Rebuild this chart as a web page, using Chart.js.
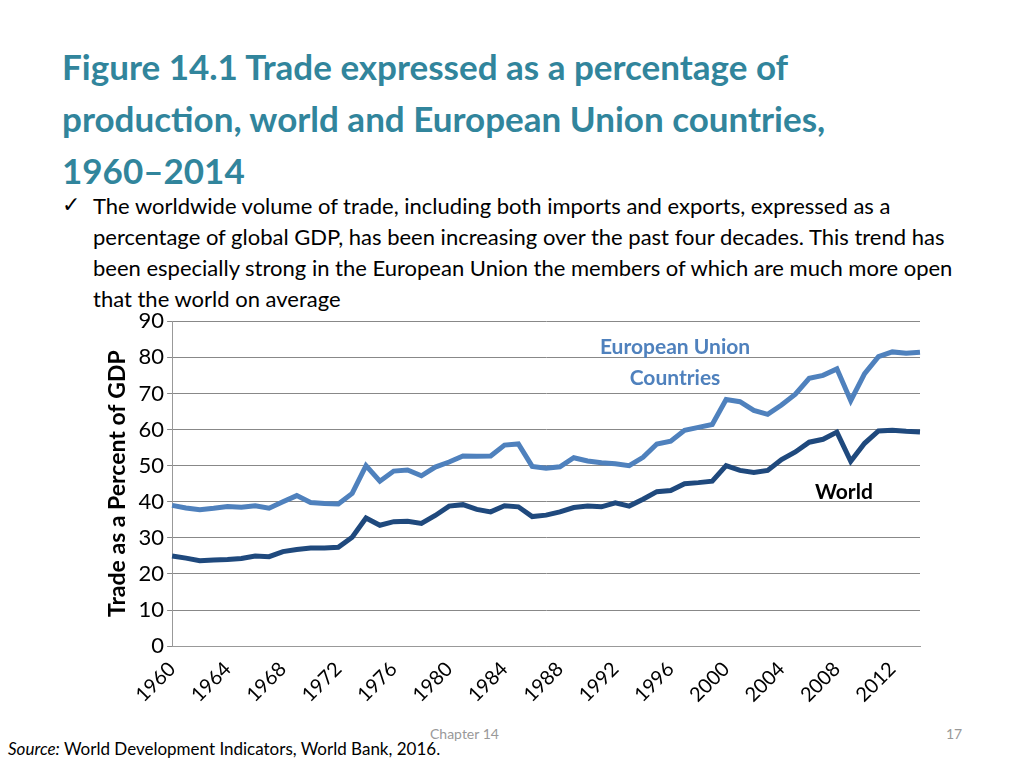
<!DOCTYPE html>
<html><head><meta charset="utf-8">
<script src="https://cdn.jsdelivr.net/npm/chart.js"></script>
<style>
body{margin:0;width:1024px;height:768px;background:#fff;font-family:Lato,"Open Sans",sans-serif;position:relative;overflow:hidden}
#t{position:absolute;left:62px;top:40px;width:830px;color:#31859c;font-weight:bold;font-size:35px;line-height:52px}
#b{position:absolute;left:93px;top:190px;width:875px;font-size:22px;line-height:31px;color:#000}
#ck{position:absolute;left:62px;top:190px;font-size:22px}
#wrap{position:absolute;left:60px;top:305px;width:885px;height:405px}
.ann{position:absolute;font-weight:bold;font-size:21px;text-align:center;line-height:31px}
#src{position:absolute;left:8px;top:738px;font-size:17px}
#ch{position:absolute;left:430px;top:725px;font-size:14px;color:#999}
#pg{position:absolute;left:946px;top:725px;font-size:14px;color:#999}
</style></head><body>
<div id="t">Figure 14.1 Trade expressed as a percentage of production, world and European Union countries, 1960–2014</div>
<div id="ck">✓</div>
<div id="b">The worldwide volume of trade, including both imports and exports, expressed as a percentage of global GDP, has been increasing over the past four decades. This trend has been especially strong in the European Union the members of which are much more open that the world on average</div>
<div id="wrap"><canvas id="c"></canvas></div>
<div class="ann" style="left:580px;top:330px;width:190px;color:#4f81bd">European Union<br>Countries</div>
<div class="ann" style="left:815px;top:475px;color:#000">World</div>
<div id="ch">Chapter 14</div><div id="pg">17</div>
<div id="src"><i>Source:</i> World Development Indicators, World Bank, 2016.</div>
<script>
const years=[];for(let y=1960;y<=2014;y++)years.push(String(y));
const euValues=[39,38.3,37.8,38.2,38.7,38.5,38.9,38.2,40,41.7,39.8,39.5,39.4,42.3,50,45.7,48.5,48.8,47.2,49.6,51,52.7,52.6,52.7,55.7,56,49.8,49.3,49.7,52.2,51.3,50.8,50.5,50,52.3,56,56.8,59.8,60.6,61.4,68.3,67.7,65.3,64.2,66.8,69.8,74.2,75,76.8,68,75.5,80.2,81.5,81.1,81.4];
const worldValues=[25,24.4,23.7,23.9,24,24.3,25,24.8,26.2,26.8,27.2,27.2,27.4,30.2,35.5,33.5,34.5,34.6,34,36.2,38.8,39.2,37.9,37.2,38.9,38.6,35.9,36.3,37.2,38.4,38.8,38.6,39.7,38.8,40.7,42.8,43.1,45,45.3,45.7,50,48.7,48.1,48.7,51.7,53.8,56.5,57.3,59.3,51.2,56.2,59.6,59.8,59.5,59.3];
new Chart(document.getElementById('c'),{type:'line',
data:{labels:years,datasets:[
{data:euValues,borderColor:'#4f81bd',borderWidth:5,pointRadius:0,tension:0},
{data:worldValues,borderColor:'#1f497d',borderWidth:5,pointRadius:0,tension:0}]},
options:{responsive:true,maintainAspectRatio:false,animation:false,
layout:{padding:{top:13,right:25,left:40}},
plugins:{legend:{display:false},tooltip:{enabled:false}},
scales:{
x:{offset:false,grid:{display:false},border:{color:'#999'},
 ticks:{autoSkip:false,maxRotation:45,minRotation:45,color:'#000',font:{family:'Lato',size:20},
 callback:(v,i)=>i%4===0?years[i]:''}},
y:{min:0,max:90,ticks:{stepSize:10,color:'#000',font:{family:'Lato',size:22}},
 border:{color:'#999'},grid:{color:'#888',borderDash:[1,1],tickLength:5},
 title:{display:true,text:'Trade as a Percent of GDP',color:'#000',font:{family:'Lato',size:23,weight:'bold'}}}}}});
</script></body></html>
